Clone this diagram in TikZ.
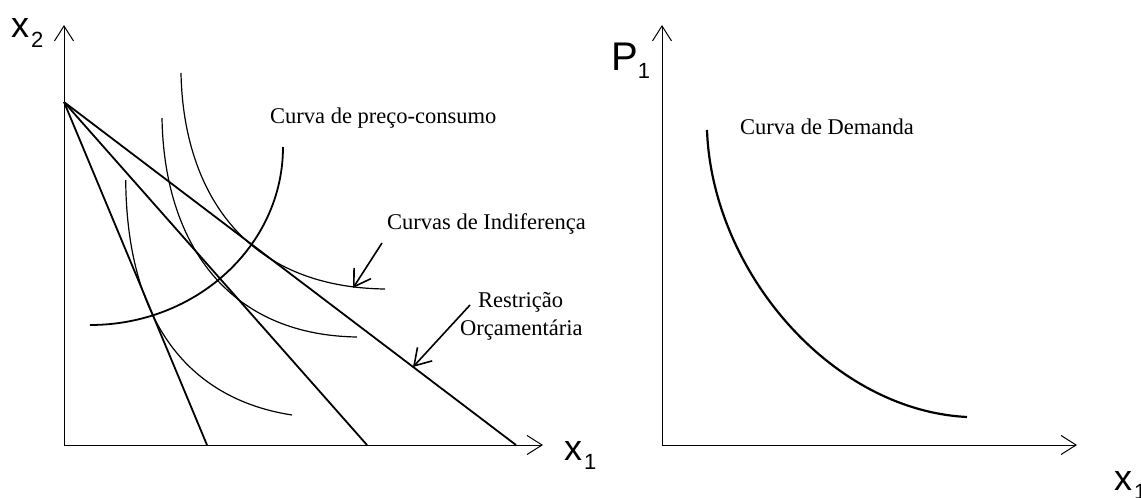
\documentclass[tikz,border=0pt]{standalone}
\usepackage{fontspec}
\setmainfont{Liberation Serif}
\newfontfamily\axfont{Liberation Sans}
\usetikzlibrary{arrows.meta}
\newcommand\axsub[2]{\raisebox{-#2}{\fontsize{22}{22}\selectfont #1}}
\begin{document}
\begin{tikzpicture}[x=1pt,y=-1pt,
  axisline/.style={line width=0.9pt,-{Straight Barb[length=15pt,width=19pt,line width=1pt]}},
  budget/.style={line width=1.8pt},
  icurve/.style={line width=1.2pt},
  pcc/.style={line width=1.8pt},
  demand/.style={line width=2.2pt},
  pointer/.style={line width=1.6pt,-{Straight Barb[length=16pt,width=20pt,line width=1.6pt]}},
  lbl/.style={font=\fontsize{22.5}{27}\selectfont, inner sep=0pt, anchor=base west},
  axlbl/.style={font=\axfont\fontsize{36}{36}\selectfont, inner sep=0pt, anchor=base west}
]
\useasboundingbox (0,0) rectangle (1141,498);

% ---------- left panel ----------
\coordinate (O1) at (64,445);
\coordinate (Y1) at (64,25);
\coordinate (X1) at (543,445);
\draw[axisline] (O1) -- (Y1);
\draw[axisline] (O1) -- (X1);

\coordinate (I) at (64,102);
\coordinate (B1) at (207,445);
\coordinate (B2) at (367,445);
\coordinate (B3) at (516,445);
\draw[budget] (I) -- (B1);
\draw[budget] (I) -- (B2);
\draw[budget] (I) -- (B3);

% indifference curves
\draw[icurve] (125.7,180) .. controls (127,330) and (195,400) .. (292,415);
\draw[icurve] (162,118) .. controls (164,240) and (225,335) .. (357,337);
\draw[icurve] (181,73) .. controls (183,180) and (235,287) .. (385,289);

% price-consumption curve
\draw[pcc] (90,325) .. controls (196.6,325) and (283,245.3) .. (283,147);

% labels
\node[lbl] (tpcc) at (270,123) {Curva de preço-consumo};
\node[lbl] (tic) at (387,229) {Curvas de Indiferença};
\node[lbl] (tr1) at (478,307) {Restrição};
\node[lbl] (tr2) at (460,335) {Orçamentária};

\coordinate (a1s) at (382,243);
\coordinate (a1e) at (353,288);
\draw[pointer] (a1s) -- (a1e);
\coordinate (a2s) at (470,305);
\coordinate (a2e) at (413,367);
\draw[pointer] (a2s) -- (a2e);

\node[axlbl] (lx2) at (11,37) {x\hspace{2pt}\axsub{2}{10pt}};
\node[axlbl] (lx1) at (564,460) {x\hspace{2pt}\axsub{1}{9pt}};

% ---------- right panel ----------
\coordinate (O2) at (662,445);
\coordinate (Y2) at (662,25);
\coordinate (X2) at (1077,445);
\draw[axisline] (O2) -- (Y2);
\draw[axisline] (O2) -- (X2);

\draw[demand] (707,130) .. controls (712,270) and (830,410) .. (967,417);

\node[lbl] (tdem) at (740,134) {Curva de Demanda};
\node[axlbl, font=\axfont\fontsize{40}{40}\selectfont] (p1) at (611,70) {P\axsub{1}{8pt}};
\node[axlbl] (rx1) at (1114,490) {x\hspace{2pt}\axsub{1}{9pt}};
\end{tikzpicture}
\end{document}
